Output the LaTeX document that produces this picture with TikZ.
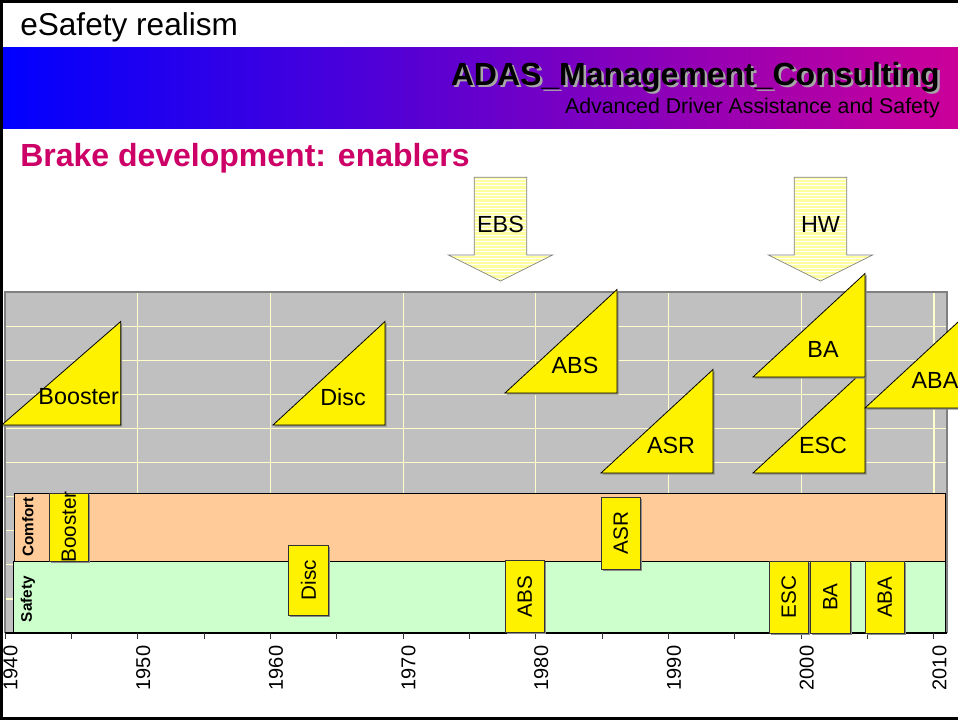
\documentclass[tikz,border=0pt]{standalone}
\usepackage{fontspec}
\setmainfont{Liberation Sans}
\definecolor{plotgray}{RGB}{192,192,192}
\definecolor{plotedge}{RGB}{128,128,128}
\definecolor{gridy}{RGB}{255,255,204}
\definecolor{peach}{RGB}{255,204,153}
\definecolor{mint}{RGB}{204,255,204}
\definecolor{brakered}{RGB}{204,0,102}
\definecolor{magr}{RGB}{204,0,153}
\definecolor{arrowy}{RGB}{255,255,160}
\newcommand\enabtri[5]{%
  \fill[shadowfill] ({#2-#4+1.5},{#3+1.5}) -- ({#2+1.5},{#3+1.5}) -- ({#2+1.5},{#3-103.5+1.5}) -- cycle;
  \draw[trifill] ({#2-#4},#3) -- (#2,#3) -- (#2,{#3-103.5}) -- cycle;
  \node[trilabel] (#1) at ({#2-42},{#3-28}) {#5};}
\newcommand\enabbox[6]{%
  \fill[shadowfill] ({#2+1.5},{#3+1.5}) rectangle ({#4+1.5},{#5+1.5});
  \draw[boxfill] (#2,#3) rectangle (#4,#5);
  \node[boxlabel] (#1) at ({(#2+#4)/2},{(#3+#5)/2}) {#6};}
\newcommand\bigdownarrow[3]{%
  \begin{scope}
    \clip ({#1-26.2},177.3) -- ({#1+26.2},177.3) -- ({#1+26.2},255) -- ({#1+52.2},255) -- (#1,281) -- ({#1-52.2},255) -- ({#1-26.2},255) -- cycle;
    \fill[arrowy] ({#1-53},177) rectangle ({#1+53},282);
    \foreach \k in {0,...,31} \draw[white, line width=0.6pt] ({#1-53},{179+\k*3.3}) -- ({#1+53},{179+\k*3.3});
  \end{scope}
  \draw[bigarrow] ({#1-26.2},177.3) -- ({#1+26.2},177.3) -- ({#1+26.2},255) -- ({#1+52.2},255) -- (#1,281) -- ({#1-52.2},255) -- ({#1-26.2},255) -- cycle;
  \node[arrowlabel] (#2) at (#1,224) {#3};}
\newcommand\shadowtext[1]{\makebox[0pt][l]{\hspace{1.8pt}\raisebox{-1.8pt}{\color{black!35}#1}}#1}
\begin{document}
\begin{tikzpicture}[x=0.75pt,y=-0.75pt,
  trifill/.style={fill=yellow, draw=black, line width=0.6pt, line join=miter},
  trilabel/.style={font=\fontsize{17.5}{20}\selectfont, inner sep=0pt},
  boxfill/.style={fill=yellow, draw=black!80, line width=0.6pt},
  boxlabel/.style={font=\fontsize{15.5}{18}\selectfont, rotate=90, inner sep=0pt},
  shadowfill/.style={fill=black!45},
  yearlabel/.style={font=\fontsize{15}{18}\selectfont, rotate=90, anchor=east, inner sep=0pt},
  bandlabel/.style={font=\bfseries\fontsize{11.5}{14}\selectfont, rotate=90, inner sep=0pt},
  bigarrow/.style={draw=plotedge, line width=0.5pt},
  arrowlabel/.style={font=\fontsize{17.5}{20}\selectfont, inner sep=0pt},
  gridline/.style={draw=gridy, line width=0.9pt},
  frameline/.style={draw=black, line width=2pt}]
\useasboundingbox (0,0) rectangle (958,722);
\fill[white] (0,0) rectangle (958,722);
% header
\shade[left color=blue, right color=magr] (3,47) rectangle (958,128);
\node[anchor=base west, inner sep=0pt, font=\fontsize{23.7}{28}\selectfont] (title) at (20,35) {eSafety realism};
\node[anchor=base east, inner sep=0pt, font=\bfseries\fontsize{24}{28}\selectfont] (adas) at (940,85) {\shadowtext{ADAS\_Management\_Consulting}};
\node[anchor=base east, inner sep=0pt, font=\fontsize{16}{19}\selectfont] (adv) at (940,113) {Advanced Driver Assistance and Safety};
\node[anchor=base west, inner sep=0pt, text=brakered, font=\bfseries\fontsize{24}{28}\selectfont] (brake) at (20,166) {Brake development: enablers};
% frame
\draw[frameline] (1.5,0) -- (1.5,718.5) -- (958,718.5);
\draw[frameline] (0,1.5) -- (958,1.5);
% plot area
\fill[plotgray] (5,292) rectangle (947,633);
\foreach \k in {1,...,9} \draw[gridline] (6,{292+\k*34.1}) -- (946,{292+\k*34.1});
\foreach \yr in {1950,1960,...,2010} \draw[gridline] ({5+(\yr-1940)*13.27},293) -- ({5+(\yr-1940)*13.27},632);
\draw[plotedge, line width=0.8pt] (5,633) -- (5,292) -- (947,292) -- (947,633);
% bands
\draw[fill=peach, draw=black, line width=0.6pt] (14,493) rectangle (945,561);
\draw[fill=mint, draw=black, line width=0.6pt] (13,561) rectangle (945,633);
\node[bandlabel] (comfort) at (28,527) {Comfort};
\node[bandlabel] (safety) at (28,599) {Safety};
% axis
\draw[black, line width=0.8pt] (5,633) -- (947,633);
\foreach \yr in {1940,1945,...,2010} \draw[black!80, line width=0.7pt] ({5+(\yr-1940)*13.27},633) -- ++(0,5.5);
\foreach \yr in {1940,1950,...,2010} \node[yearlabel] (y\yr) at ({10.5+(\yr-1940)*13.27},645.5) {\yr};
% triangles
\enabtri{tbooster}{120.7}{425}{119}{Booster}
\enabtri{tdisc}{385}{425}{112}{Disc}
\enabtri{tabs}{617}{393}{112}{ABS}
\enabtri{tasr}{713}{473}{112}{ASR}
\enabtri{tesc}{865}{473}{112}{ESC}
\enabtri{tba}{865}{377}{112}{BA}
\enabtri{taba}{977}{408}{112}{ABA}
% boxes
\enabbox{bbooster}{49}{493}{88.5}{561}{Booster}
\enabbox{bdisc}{288.5}{545}{328.5}{615}{Disc}
\enabbox{babs}{505}{560.3}{544.3}{632.5}{ABS}
\enabbox{basr}{601}{497.3}{640.7}{569.3}{ASR}
\enabbox{besc}{769}{561.3}{808.3}{633}{ESC}
\enabbox{bba}{810.7}{561.3}{850}{633}{BA}
\enabbox{baba}{865}{561.3}{904.3}{633}{ABA}
% big arrows
\bigdownarrow{500.5}{ebs}{EBS}
\bigdownarrow{820.5}{hw}{HW}
\end{tikzpicture}
\end{document}
